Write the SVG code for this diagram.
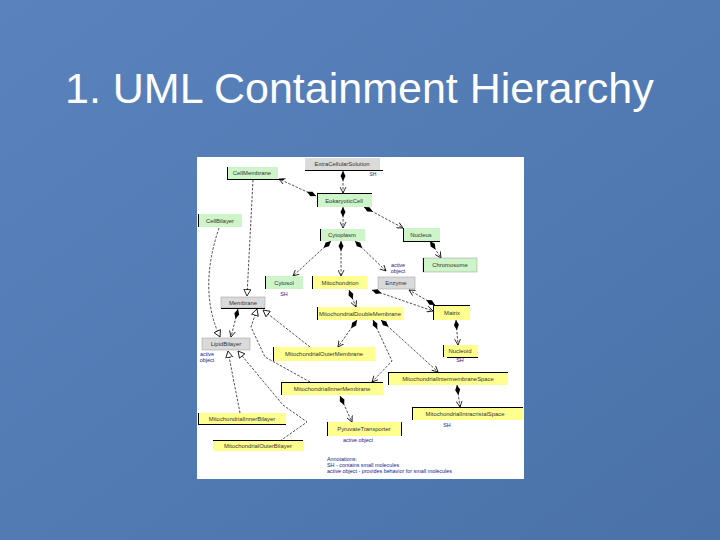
<svg xmlns="http://www.w3.org/2000/svg" width="720" height="540" viewBox="0 0 720 540">
<defs>
<linearGradient id="bg" x1="0" y1="0" x2="1" y2="1">
<stop offset="0" stop-color="#5a83bd"/>
<stop offset="0.5" stop-color="#527bb4"/>
<stop offset="1" stop-color="#4a72a8"/>
</linearGradient>
<marker id="dia" markerUnits="userSpaceOnUse" markerWidth="10" markerHeight="6" refX="0" refY="3" orient="auto"><path d="M0,3 L5,0.5 L10,3 L5,5.5 Z" fill="#000"/></marker>
<marker id="arr" markerUnits="userSpaceOnUse" markerWidth="7" markerHeight="7" refX="6" refY="3.5" orient="auto"><path d="M0,0.5 L6,3.5 L0,6.5" fill="none" stroke="#000" stroke-width="0.8"/></marker>
<marker id="tri" markerUnits="userSpaceOnUse" markerWidth="8" markerHeight="8" refX="7" refY="4" orient="auto"><path d="M0.5,0.5 L7,4 L0.5,7.5 Z" fill="#fff" stroke="#000" stroke-width="0.8"/></marker>
</defs>
<style>
.t{font-family:"Liberation Sans",Arial,sans-serif;font-size:5.9px;fill:#333;text-anchor:middle}
.n{font-family:"Liberation Sans",Arial,sans-serif;font-size:5.4px;fill:#1a1a8c;text-anchor:middle}
.g{fill:#cdf5c9}
.y{fill:#ffff8f}
.s{fill:#dadada}
.e{stroke:#000;stroke-width:1}
.c{fill:none;stroke:#222;stroke-width:0.8;stroke-dasharray:2.5 1.5}
.d{marker-start:url(#dia)}
.a{marker-end:url(#arr)}
.h{marker-end:url(#tri)}
</style>
<rect width="720" height="540" fill="url(#bg)"/>
<text x="65" y="103" font-family="'Liberation Sans',Arial,sans-serif" font-size="43" fill="#fff">1. UML Containment Hierarchy</text>
<rect x="197" y="157" width="327" height="322" fill="#fff"/>

<g id="connectors">
<path class="c d a" d="M343,171 L343,193"/>
<path class="c d a" d="M316,196 L279,179"/>
<path class="c d a" d="M364,207 L403,228"/>
<path class="c d a" d="M343,207 L343,228"/>
<path class="c d a" d="M331,241 L293,276"/>
<path class="c d a" d="M341,241 L341,276"/>
<path class="c d a" d="M355,241 L386,271"/>
<path class="c d a" d="M430,241 L441,258"/>
<path class="c h" d="M253,180 L247,296"/>
<path class="c h" d="M219,228 Q198,290 220,337"/>
<path class="c d a" d="M238,309 L231,337"/>
<path class="c d a" d="M349,290 L356,307"/>
<path class="c d a" d="M372,290 L433,311"/>
<path class="c d a" d="M435,305 L409,290"/>
<path class="c d a" d="M456,320 L458,345"/>
<path class="c d a" d="M357,320 L338,347"/>
<path class="c d a" d="M373,320 L392,361 L372,382"/>
<path class="c d a" d="M381,320 L438,372"/>
<path class="c d a" d="M457,385 L460,407"/>
<path class="c h" d="M310,382 L265,357 L251,327 L257,309"/>
<path class="c h" d="M310,347 L263,310"/>
<path class="c h" d="M240,413 L228,351"/>
<path class="c h" d="M280,441 L307,422 L283,405 L238,351"/>
<path class="c d a" d="M340,396 L352,422"/>
</g>

<g id="ExtraCellularSolution"><rect class="s" x="305" y="158" width="75" height="12"/><line class="e" x1="305" y1="170.5" x2="383" y2="170.5"/><text class="t" x="342" y="166">ExtraCellularSolution</text><text class="t" x="373" y="176" style="font-size:5px">SH</text></g>
<g id="CellMembrane"><rect class="g" x="227" y="167" width="51" height="12"/><line class="e" x1="227.5" y1="167" x2="227.5" y2="179.5"/><line class="e" x1="227" y1="179.5" x2="284" y2="179.5"/><text class="t" x="252" y="175">CellMembrane</text></g>
<g id="EukaryoticCell"><rect class="g" x="317" y="194" width="55" height="13"/><line class="e" x1="317.5" y1="194" x2="317.5" y2="207"/><line class="e" x1="317" y1="193.5" x2="372" y2="193.5"/><text class="t" x="344" y="202.5">EukaryoticCell</text></g>
<g id="CellBilayer"><rect class="g" x="198" y="214" width="44" height="13"/><line class="e" x1="198.5" y1="214" x2="198.5" y2="227"/><text class="t" x="220" y="222.5">CellBilayer</text></g>
<g id="Cytoplasm"><rect class="g" x="320" y="229" width="45" height="12"/><line class="e" x1="320.5" y1="229" x2="320.5" y2="241"/><text class="t" x="342" y="237">Cytoplasm</text></g>
<g id="Nucleus"><rect class="g" x="403" y="228" width="37" height="13"/><line class="e" x1="403.5" y1="228" x2="403.5" y2="241"/><line class="e" x1="403" y1="241.5" x2="440" y2="241.5"/><text class="t" x="421" y="236.5">Nucleus</text></g>
<g id="Chromosome"><rect class="g" x="423" y="258" width="54" height="14" stroke="#999" stroke-width="0.5"/><line class="e" x1="423.5" y1="258" x2="423.5" y2="272"/><text class="t" x="450" y="267">Chromosome</text></g>
<g id="Cytosol"><rect class="g" x="265" y="276" width="38" height="13"/><line class="e" x1="265.5" y1="276" x2="265.5" y2="289"/><text class="t" x="284" y="284.5">Cytosol</text><text class="n" x="284" y="295.5">SH</text></g>
<g id="Mitochondrion"><rect class="y" x="312" y="276" width="55" height="13"/><line class="e" x1="312.5" y1="276" x2="312.5" y2="289"/><text class="t" x="340" y="284.5">Mitochondrion</text></g>
<g id="Enzyme"><text class="n" x="398" y="267">active</text><text class="n" x="398" y="273">object</text><rect class="s" x="378" y="277" width="37" height="12" stroke="#999" stroke-width="0.5"/><text class="t" x="396" y="285">Enzyme</text></g>
<g id="Membrane"><rect class="s" x="221" y="297" width="44" height="11" stroke="#999" stroke-width="0.5"/><line class="e" x1="221" y1="308.5" x2="265" y2="308.5"/><text class="t" x="243" y="304.5">Membrane</text></g>
<g id="MitochondrialDoubleMembrane"><rect class="y" x="317" y="307" width="86" height="13"/><line class="e" x1="317.5" y1="307" x2="317.5" y2="320"/><text class="t" x="360" y="315.5">MitochondrialDoubleMembrane</text></g>
<g id="Matrix"><rect class="y" x="433" y="305" width="37" height="15"/><line class="e" x1="433.5" y1="305" x2="433.5" y2="320"/><line class="e" x1="433" y1="305.5" x2="470" y2="305.5"/><text class="t" x="452" y="314.5">Matrix</text></g>
<g id="LipidBilayer"><rect class="s" x="202" y="338" width="48" height="12" stroke="#999" stroke-width="0.5"/><text class="t" x="226" y="346">LipidBilayer</text><text class="n" x="207" y="356">active</text><text class="n" x="207" y="362">object</text></g>
<g id="Nucleoid"><rect class="y" x="443" y="345" width="35" height="12"/><line class="e" x1="443.5" y1="345" x2="443.5" y2="357"/><line class="e" x1="447" y1="357.5" x2="478" y2="357.5"/><text class="t" x="460" y="353">Nucleoid</text><text class="n" x="460" y="362">SH</text></g>
<g id="MitochondrialOuterMembrane"><rect class="y" x="273" y="347" width="102" height="14"/><line class="e" x1="273.5" y1="347" x2="273.5" y2="361"/><text class="t" x="324" y="356">MitochondrialOuterMembrane</text></g>
<g id="MitochondrialIntermembraneSpace"><rect class="y" x="388" y="372" width="120" height="13"/><line class="e" x1="388.5" y1="372" x2="388.5" y2="385"/><line class="e" x1="388" y1="372.5" x2="508" y2="372.5"/><text class="t" x="448" y="380.5">MitochondrialIntermembraneSpace</text></g>
<g id="MitochondrialInnerMembrane"><rect class="y" x="281" y="382" width="102" height="13"/><line class="e" x1="281.5" y1="382" x2="281.5" y2="395"/><line class="e" x1="281" y1="382.5" x2="383" y2="382.5"/><text class="t" x="332" y="390.5">MitochondrialInnerMembrane</text></g>
<g id="MitochondrialIntracristalSpace"><rect class="y" x="412" y="407" width="111" height="13"/><line class="e" x1="412.5" y1="407" x2="412.5" y2="420"/><line class="e" x1="412" y1="407.5" x2="523" y2="407.5"/><text class="t" x="465" y="415.5">MitochondrialIntracristalSpace</text><text class="n" x="447" y="427">SH</text></g>
<g id="MitochondrialInnerBilayer"><rect class="y" x="198" y="413" width="88" height="11"/><line class="e" x1="198.5" y1="413" x2="198.5" y2="424"/><line class="e" x1="198" y1="424.5" x2="286" y2="424.5"/><text class="t" x="242" y="420.5">MitochondrialInnerBilayer</text></g>
<g id="PyruvateTransporter"><rect class="y" x="327" y="422" width="75" height="14"/><line class="e" x1="327.5" y1="422" x2="327.5" y2="436"/><line class="e" x1="401.5" y1="422" x2="401.5" y2="436"/><text class="t" x="364" y="431">PyruvateTransporter</text><text class="n" x="358" y="441.5">active object</text></g>
<g id="MitochondrialOuterBilayer"><rect class="y" x="213" y="441" width="90" height="10"/><line class="e" x1="213" y1="440.5" x2="303" y2="440.5"/><text class="t" x="258" y="448">MitochondrialOuterBilayer</text></g>
<g id="annotations" font-family="'Liberation Sans',Arial,sans-serif" font-size="5.4" fill="#1a1a8c">
<text x="327" y="461">Annotations:</text>
<text x="327" y="467">SH - contains small molecules</text>
<text x="327" y="473">active object - provides behavior for small molecules</text>
</g>
</svg>
